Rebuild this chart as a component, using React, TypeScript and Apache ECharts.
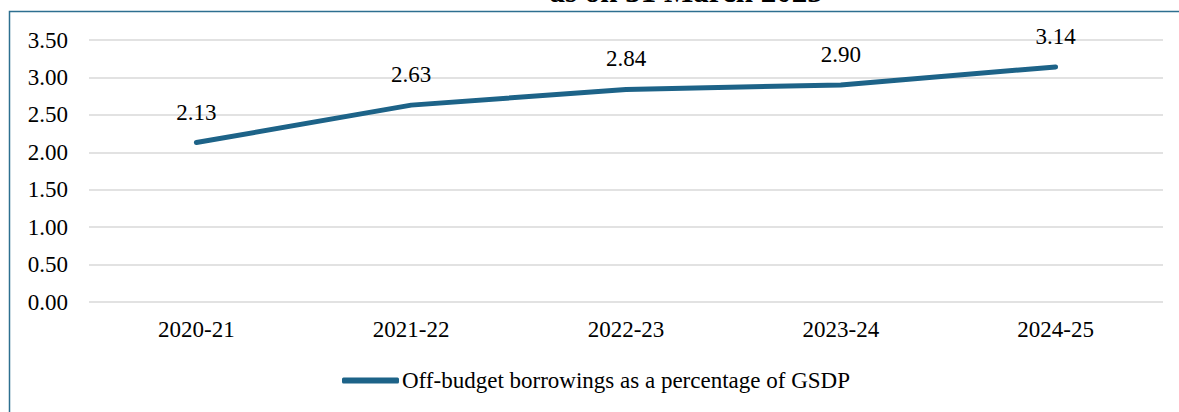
import React, { useEffect, useRef } from "react";
import * as echarts from "echarts";

const categories = ["2020-21", "2021-22", "2022-23", "2023-24", "2024-25"];
const values = [2.13, 2.63, 2.84, 2.9, 3.14];
const seriesName = "Off-budget borrowings as a percentage of GSDP";
const titleText = "as on 31 March 2025";

const FONT = "Liberation Serif";
const LINE_COLOR = "#1d6388";
const FS = 23;

export default function App() {
  const ref = useRef<HTMLDivElement>(null);
  useEffect(() => {
    if (!ref.current) return;
    const chart = echarts.init(ref.current, undefined, { renderer: "svg" });
    chart.setOption({
      animation: false,
      backgroundColor: "#ffffff",
      textStyle: { fontFamily: FONT },
      grid: { left: 89, right: 16, top: 40, bottom: 110 },
      graphic: [
        {
          type: "rect",
          shape: { x: 9.5, y: 11.5, width: 1300, height: 600 },
          style: { fill: "none", stroke: "#2d6f90", lineWidth: 1.5 },
          silent: true,
        },
        {
          type: "text",
          x: 686,
          y: -9,
          style: {
            text: titleText,
            fontFamily: FONT,
            fontWeight: "bold",
            fontSize: 31,
            fill: "#000",
            textAlign: "center",
            textVerticalAlign: "middle",
          },
        },
      ],
      xAxis: {
        type: "category",
        data: categories,
        boundaryGap: true,
        axisLine: { show: false },
        axisTick: { show: false },
        axisLabel: { color: "#000", fontSize: FS, fontFamily: FONT, margin: 16 },
      },
      yAxis: {
        type: "value",
        min: 0,
        max: 3.5,
        interval: 0.5,
        axisLine: { show: false },
        axisTick: { show: false },
        splitLine: { lineStyle: { color: "#d9d9d9", width: 1.5 } },
        axisLabel: {
          color: "#000",
          fontSize: FS,
          fontFamily: FONT,
          margin: 21,
          formatter: (v: number) => v.toFixed(2),
        },
      },
      legend: {
        left: 337,
        top: 364,
        icon: "roundRect",
        itemWidth: 57,
        itemHeight: 6,
        itemGap: 10,
        textStyle: { color: "#000", fontSize: FS, fontFamily: FONT, padding: [0, 0, 0, -2] },
        data: [{ name: seriesName, itemStyle: { color: LINE_COLOR } }],
      },
      series: [
        {
          name: seriesName,
          type: "line",
          data: values,
          showSymbol: true,
          symbol: "circle",
          symbolSize: 0.1,
          lineStyle: { color: LINE_COLOR, width: 5, cap: "round", join: "round" },
          itemStyle: { color: LINE_COLOR },
          label: {
            show: true,
            position: "top",
            distance: 19,
            color: "#000",
            fontSize: FS,
            fontFamily: FONT,
            formatter: (p: any) => Number(p.value).toFixed(2),
          },
        },
      ],
    });
    return () => chart.dispose();
  }, []);
  return <div ref={ref} style={{ width: 1179, height: 412, position: "absolute", left: 0, top: 0 }} />;
}
